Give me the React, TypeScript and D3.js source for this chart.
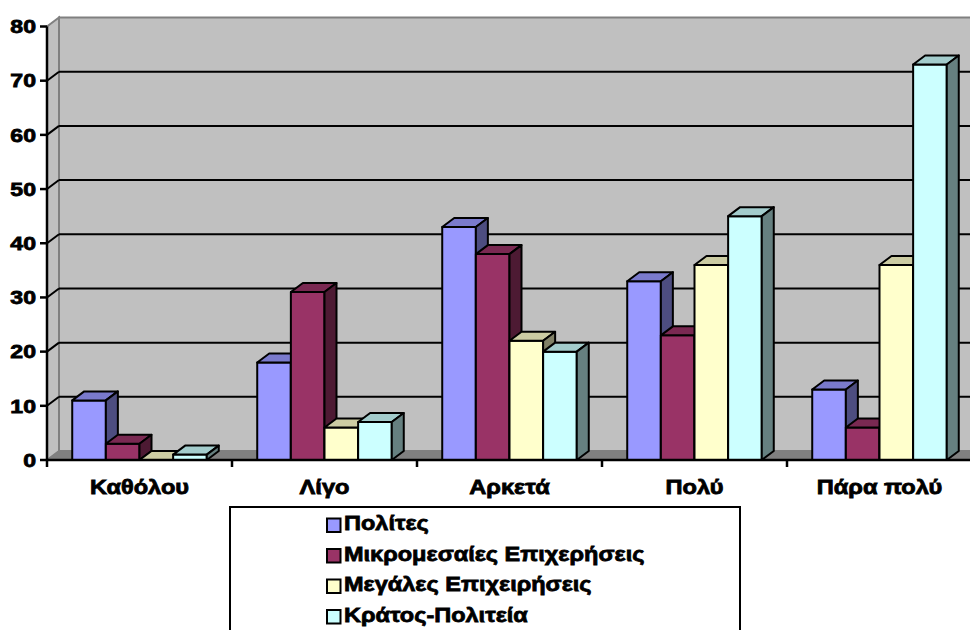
import React from "react";
import * as d3 from "d3";

// Survey answers (x axis) and the four groups asked (series)
const categories = ["Καθόλου", "Λίγο", "Αρκετά", "Πολύ", "Πάρα πολύ"];
const seriesNames = [
  "Πολίτες",
  "Μικρομεσαίες Επιχερήσεις",
  "Μεγάλες Επιχειρήσεις",
  "Κράτος-Πολιτεία",
];
const politesValues = [11, 18, 43, 33, 13];
const mmeValues = [3, 31, 38, 23, 6];
const megalesValues = [0, 6, 22, 36, 36];
const kratosValues = [1, 7, 20, 45, 73];
const seriesColors = ["#9999FF", "#993366", "#FFFFCC", "#CCFFFF"];
const yTicks = [0, 10, 20, 30, 40, 50, 60, 70, 80];

const W = 970;
const H = 630;
const FONT = "'Liberation Sans', Arial, sans-serif";

const x0 = 47;
const x1 = 972;
const yBase = 460;
const yTop = 26.5;
const DX = 12; // depth offset of the 3-D box
const DY = 9;

const seriesValues = [politesValues, mmeValues, megalesValues, kratosValues];

function shade(c: string, k: number) {
  const r = d3.rgb(c);
  return d3.rgb(r.r * k, r.g * k, r.b * k).formatHex();
}

function Label({
  x,
  y,
  text,
  anchor,
  size,
  sx,
}: {
  x: number;
  y: number;
  text: string;
  anchor: string;
  size: number;
  sx: number;
}) {
  return (
    <text
      transform={`translate(${x},${y}) scale(${sx},1)`}
      textAnchor={anchor}
      fontFamily={FONT}
      fontWeight="bold"
      fontSize={size}
      fill="#000"
      stroke="#000"
      strokeWidth={0.8}
    >
      {text}
    </text>
  );
}

export default function App() {
  const y = d3.scaleLinear().domain([0, 80]).range([yBase, yTop]);
  const xCat = d3.scaleBand<string>().domain(categories).range([x0, x1]).padding(0);
  const bw = xCat.bandwidth();
  const xSer = d3
    .scaleBand<string>()
    .domain(seriesNames)
    .range([0, bw])
    .paddingInner(0)
    .paddingOuter(0.75);
  const w = xSer.bandwidth();

  const bars: React.ReactNode[] = [];
  categories.forEach((cat, ci) => {
    seriesNames.forEach((s, si) => {
      const v = seriesValues[si][ci];
      const bx = (xCat(cat) as number) + (xSer(s) as number);
      const ty = y(v);
      const col = seriesColors[si];
      bars.push(
        <g key={`${ci}-${si}`} stroke="#000" strokeWidth={2} strokeLinejoin="round">
          <rect x={bx} y={ty} width={w} height={yBase - ty} fill={col} />
          <polygon
            points={`${bx},${ty} ${bx + DX},${ty - DY} ${bx + w + DX},${ty - DY} ${bx + w},${ty}`}
            fill={shade(col, 0.8)}
          />
          <polygon
            points={`${bx + w},${ty} ${bx + w + DX},${ty - DY} ${bx + w + DX},${yBase - DY} ${bx + w},${yBase}`}
            fill={shade(col, 0.5)}
          />
        </g>
      );
    });
  });

  const legendX = 230;
  const legendY = 507;
  const rowBase = [530, 560.5, 591, 621.5];

  return (
    <svg
      width={W}
      height={H}
      style={{ position: "fixed", left: 0, top: 0, background: "#fff" }}
    >
      {/* walls and floor */}
      <polygon
        points={`${x0},${yBase} ${x0},${yTop} ${x0 + DX},${yTop - DY} ${x0 + DX},${yBase - DY}`}
        fill="#C0C0C0"
        stroke="#808080"
        strokeWidth={2}
      />
      <rect
        x={x0 + DX}
        y={yTop - DY}
        width={x1 - x0}
        height={yBase - yTop}
        fill="#C0C0C0"
        stroke="#808080"
        strokeWidth={2}
      />
      <polygon
        points={`${x0},${yBase} ${x0 + DX},${yBase - DY} ${x1 + DX},${yBase - DY} ${x1},${yBase}`}
        fill="#808080"
      />
      {/* gridlines */}
      {yTicks
        .filter((t) => t > 0 && t < 80)
        .map((t) => (
          <g key={t} stroke="#000" strokeWidth={2}>
            <line x1={x0 + DX} x2={x1 + DX} y1={y(t) - DY} y2={y(t) - DY} />
            <line x1={x0} x2={x0 + DX} y1={y(t)} y2={y(t) - DY} />
          </g>
        ))}
      {bars}
      {/* value axis */}
      <line x1={x0} x2={x0} y1={yTop} y2={yBase} stroke="#000" strokeWidth={2.5} />
      {yTicks.map((t) => (
        <g key={t}>
          <line x1={x0 - 7} x2={x0} y1={y(t)} y2={y(t)} stroke="#000" strokeWidth={2.5} />
          <Label x={36} y={y(t) + 6.7} text={String(t)} anchor="end" size={18.6} sx={1.24} />
        </g>
      ))}
      {/* category axis */}
      <line x1={x0} x2={x1} y1={yBase} y2={yBase} stroke="#000" strokeWidth={2.5} />
      {categories.map((c) => (
        <line
          key={c}
          x1={xCat(c) as number}
          x2={xCat(c) as number}
          y1={yBase}
          y2={yBase + 7}
          stroke="#000"
          strokeWidth={2.5}
        />
      ))}
      {categories.map((c) => (
        <Label
          key={c}
          x={(xCat(c) as number) + bw / 2}
          y={494}
          text={c}
          anchor="middle"
          size={20}
          sx={1.18}
        />
      ))}
      {/* legend */}
      <rect
        x={legendX}
        y={legendY}
        width={510}
        height={140}
        fill="#fff"
        stroke="#000"
        strokeWidth={2}
      />
      {seriesNames.map((s, i) => (
        <g key={s}>
          <rect
            x={327}
            y={rowBase[i] - 11.5}
            width={13.5}
            height={13.5}
            fill={seriesColors[i]}
            stroke="#000"
            strokeWidth={2}
          />
          <Label x={344} y={rowBase[i]} text={s} anchor="start" size={21} sx={1.12} />
        </g>
      ))}
    </svg>
  );
}
